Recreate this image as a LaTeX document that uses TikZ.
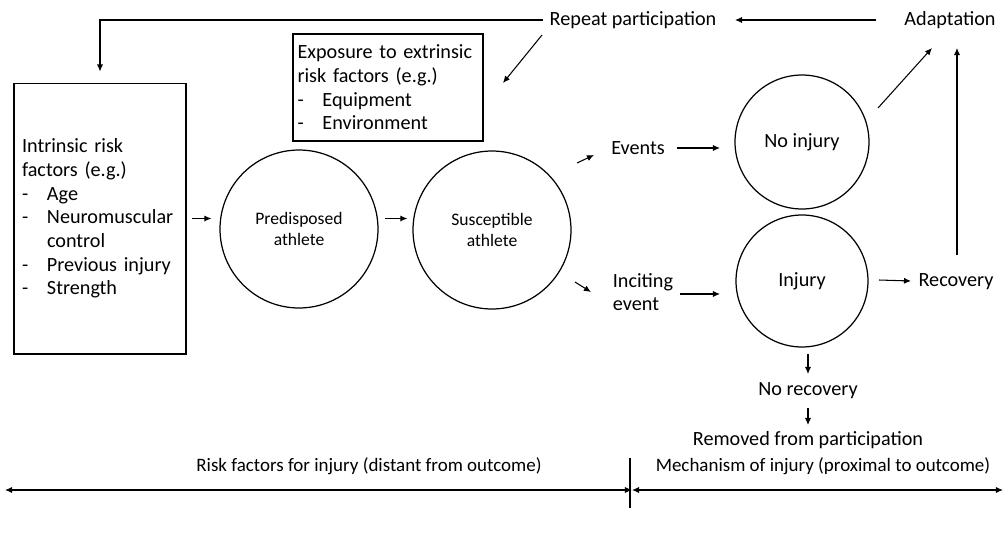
\documentclass[tikz,border=0pt]{standalone}
\usepackage{fontspec}
\setmainfont{Carlito}
\usetikzlibrary{arrows.meta,calc,positioning}
\tikzset{%
	box/.style    = {draw, rectangle, align=left, inner xsep=0.16cm, inner ysep=0pt, line width=0.6pt}, % list box
	blob/.style   = {draw, circle, align=center, inner sep=0pt, line width=0.7pt, font=\fontsize{10}{12.2}\selectfont}, % state
	lbl/.style    = {inner sep=1pt, align=left}, % plain text
	arr/.style    = {->, line width=0.6pt},
}
\newcommand{\riskitem}[1]{\makebox[0.5cm][l]{-}#1}

\begin{document}
\begin{tikzpicture}[x=0.02cm, y=-0.02cm, font=\fontsize{11.5}{13.5}\selectfont, >={Latex[length=4pt,width=3.5pt]}]
		\useasboundingbox (0,0) rectangle (1008,535);
		% texts and boxes
		\node[lbl] (rep) at (633,20) {Repeat participation};
		\node[lbl] (adapt) at (950,20) {Adaptation};
		\node[box, inner xsep=0.09cm, minimum width=3.8cm, minimum height=2.14cm, text width=3.62cm] (expo) at (388,87.5) {Exposure to extrinsic\\risk factors (e.g.)\\\riskitem{Equipment}\\\riskitem{Environment}};
		\node[box, minimum width=3.44cm, minimum height=5.42cm, text width=3.12cm] (intr) at (100,218.5) {Intrinsic risk\\factors (e.g.)\\\riskitem{Age}\\\riskitem{Neuromuscular}\\\hspace*{0.5cm}control\\\riskitem{Previous injury}\\\riskitem{Strength}};
		\node[blob, minimum size=3.16cm] (pre) at (299,229) {Predisposed\\athlete};
		\node[blob, minimum size=3.16cm] (sus) at (492,230) {Susceptible\\athlete};
		\node[lbl] (evt) at (638,148) {Events};
		\node[lbl] (inc) at (643,292) {Inciting\\event};
		\node[blob, minimum size=2.68cm, font=\fontsize{11.5}{13.5}\selectfont] (noinj) at (802,142) {No injury};
		\node[blob, minimum size=2.64cm, font=\fontsize{11.5}{13.5}\selectfont] (inj) at (802,281) {Injury};
		\node[lbl] (rec) at (956,282) {Recovery};
		\node[lbl] (norec) at (808,391) {No recovery};
		\node[lbl] (rem) at (808,440) {Removed from participation};
		\node[lbl, font=\fontsize{10.8}{13}\selectfont] (risk) at (369,466) {Risk factors for injury (distant from outcome)};
		\node[lbl, font=\fontsize{10.8}{13}\selectfont] (mech) at (823,466) {Mechanism of injury (proximal to outcome)};
		% connectors
		\draw[arr, shorten >=0.22cm] ([shift={(-90,0)}]rep.center) -| (intr.north);
		\draw[arr] ([shift={(-74,0)}]adapt.center) -- ([shift={(102,0)}]rep.center);
		\draw[arr] ([shift={(-91,15)}]rep.center) -- ([shift={(115,-4.5)}]expo.center);
		\draw[arr, shorten <=0.1cm, shorten >=0.16cm] (intr.east) -- (intr.east -| pre.west);
		\draw[arr, shorten <=0.12cm, shorten >=0.1cm] (intr.east -| pre.east) -- (intr.east -| sus.west);
		\draw[arr] ([shift={(85,-67)}]sus.center) -- ([shift={(-44,7)}]evt.center);
		\draw[arr] ([shift={(83,52)}]sus.center) -- ([shift={(-52,0)}]inc.center);
		\draw[arr] ([shift={(39,0)}]evt.center) -- ([shift={(-82,6)}]noinj.center);
		\draw[arr] ([shift={(37,2)}]inc.center) -- ([shift={(-82,13)}]inj.center);
		\draw[arr] ([shift={(76,-34)}]noinj.center) -- ([shift={(-18,28)}]adapt.center);
		\draw[arr] ([shift={(1,-27)}]rec.center) -- ([shift={(7,28)}]adapt.center);
		\draw[arr] ([shift={(77,-1)}]inj.center) -- ([shift={(-45,-1)}]rec.center);
		\draw[arr] ([shift={(6,73)}]inj.center) -- ([shift={(0,-17)}]norec.center);
		\draw[arr] ([shift={(0,17)}]norec.center) -- ([shift={(0,-15)}]rem.center);
		% time line
		\coordinate (tl) at (5,490);
		\coordinate (tm) at (632,490);
		\coordinate (tr) at (1003,490);
		\coordinate (tt) at (630,458);
		\coordinate (tb) at (630,508);
		\draw[<->, line width=0.6pt] (tl) -- (tm);
		\draw[<->, line width=0.6pt] (tm) -- (tr);
		\draw[line width=0.6pt] (tt) -- (tb);
\end{tikzpicture}
\end{document}
